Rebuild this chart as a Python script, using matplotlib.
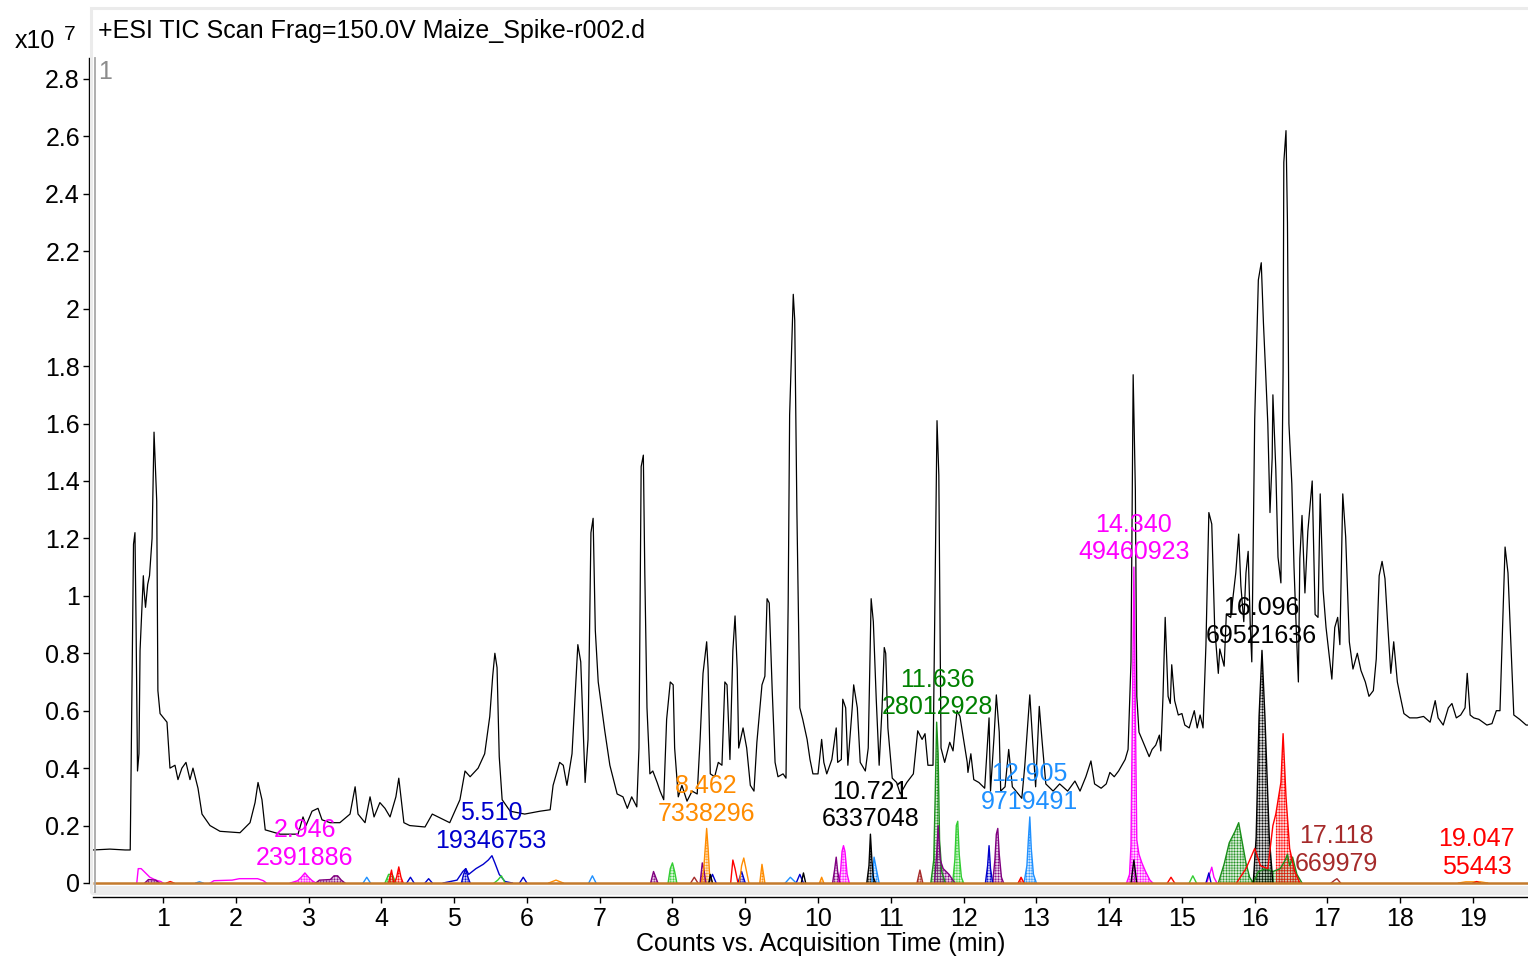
import matplotlib
matplotlib.use("Agg")
import numpy as np
import matplotlib.pyplot as plt
from matplotlib.patches import Rectangle
from matplotlib.lines import Line2D

plt.rcParams['font.family'] = ['Liberation Sans', 'DejaVu Sans']
plt.rcParams['hatch.linewidth'] = 0.35

# TIC trace, time (min) and counts (x10^7)
tic_time = [0.04, 0.27, 0.48, 0.55, 0.57, 0.595, 0.615, 0.63, 0.65, 0.67, 0.685, 0.73, 0.74, 0.76,
            0.79, 0.815, 0.85, 0.877, 0.914, 0.93, 0.96, 1.055, 1.096, 1.165, 1.206, 1.26, 1.316,
            1.371, 1.412, 1.481, 1.536, 1.646, 1.783, 2.058, 2.196, 2.265, 2.306, 2.36, 2.405, 2.61,
            2.855, 2.924, 2.965, 3.048, 3.13, 3.185, 3.295, 3.43, 3.57, 3.64, 3.68, 3.776, 3.845,
            3.90, 3.98, 4.05, 4.12, 4.20, 4.24, 4.31, 4.39, 4.60, 4.70, 4.78, 4.94, 5.08, 5.15,
            5.22, 5.33, 5.42, 5.49, 5.53, 5.56, 5.59, 5.62, 5.66, 5.77, 5.97, 6.18, 6.32,
            6.36, 6.45, 6.50, 6.55, 6.62, 6.66, 6.70, 6.74, 6.80, 6.84, 6.88, 6.91, 6.94, 6.98,
            7.07, 7.14, 7.24, 7.32, 7.38, 7.44, 7.51, 7.54, 7.57, 7.60, 7.62, 7.65, 7.69, 7.73,
            7.79, 7.83, 7.88, 7.92, 7.97, 8.01, 8.03, 8.08, 8.13, 8.20, 8.27, 8.34, 8.38, 8.42,
            8.47, 8.49, 8.52, 8.58, 8.63, 8.68, 8.72, 8.75, 8.79, 8.83, 8.86, 8.89, 8.91, 8.97,
            9.02, 9.07, 9.12, 9.16, 9.23, 9.27, 9.30, 9.33, 9.37, 9.41, 9.45, 9.52, 9.56, 9.59,
            9.61, 9.66, 9.68, 9.71, 9.75, 9.79, 9.85, 9.89, 9.93, 10.00, 10.05, 10.08, 10.12,
            10.19, 10.25, 10.27, 10.32, 10.34, 10.38, 10.41, 10.47, 10.49, 10.54, 10.58, 10.65,
            10.69, 10.73, 10.76, 10.80, 10.84, 10.88, 10.91, 10.93, 10.96, 11.02, 11.08, 11.13,
            11.22, 11.31, 11.37, 11.43, 11.47, 11.51, 11.58, 11.62, 11.635, 11.66, 11.69, 11.74,
            11.81, 11.855, 11.91, 11.95, 11.99, 12.05, 12.06, 12.10, 12.14, 12.21, 12.29, 12.35,
            12.37, 12.42, 12.45, 12.49, 12.51, 12.57, 12.62, 12.67, 12.72, 12.80, 12.84, 12.89,
            12.91, 12.95, 12.99, 13.04, 13.08, 13.13, 13.23, 13.32, 13.43, 13.53, 13.60, 13.68,
            13.75, 13.80, 13.89, 13.96, 14.01, 14.07, 14.13, 14.22, 14.26, 14.30, 14.33, 14.36,
            14.38, 14.41, 14.46, 14.55, 14.59, 14.64, 14.69, 14.71, 14.74, 14.77, 14.81, 14.84,
            14.86, 14.90, 14.95, 15.00, 15.04, 15.10, 15.17, 15.21, 15.25, 15.29, 15.33, 15.37,
            15.41, 15.45, 15.50, 15.52, 15.58, 15.61, 15.67, 15.74, 15.78, 15.81, 15.85, 15.88,
            15.91, 15.94, 15.96, 16.00, 16.05, 16.09, 16.12, 16.15, 16.18, 16.21, 16.24, 16.25,
            16.29, 16.32, 16.36, 16.39, 16.40, 16.43, 16.45, 16.47, 16.51, 16.54, 16.57, 16.60,
            16.62, 16.65, 16.69, 16.73, 16.79, 16.83, 16.87, 16.90, 16.94, 16.98, 17.02, 17.06,
            17.10, 17.14, 17.17, 17.21, 17.25, 17.30, 17.35, 17.41, 17.46, 17.52, 17.57, 17.63,
            17.67, 17.71, 17.75, 17.79, 17.83, 17.87, 17.91, 17.96, 18.00, 18.05, 18.13, 18.23,
            18.32, 18.41, 18.48, 18.52, 18.59, 18.66, 18.71, 18.77, 18.83, 18.89, 18.92, 18.96,
            19.01, 19.08, 19.19, 19.26, 19.32, 19.37, 19.41, 19.44, 19.48, 19.52, 19.56, 19.64,
            19.73, 19.75]
tic_counts = [0.115, 0.118, 0.115, 0.115, 0.6, 1.18, 1.22, 0.9, 0.39, 0.45, 0.81, 1.07, 1.02, 0.96,
              1.04, 1.07, 1.2, 1.57, 1.33, 0.67, 0.59, 0.56, 0.40, 0.41, 0.36, 0.40, 0.42,
              0.36, 0.40, 0.33, 0.24, 0.20, 0.18, 0.175, 0.21, 0.28, 0.35, 0.29, 0.185, 0.17,
              0.17, 0.23, 0.20, 0.25, 0.26, 0.22, 0.21, 0.21, 0.24, 0.335, 0.24, 0.21, 0.30,
              0.23, 0.28, 0.26, 0.23, 0.30, 0.365, 0.21, 0.20, 0.195, 0.24, 0.23, 0.21, 0.29, 0.39,
              0.37, 0.40, 0.45, 0.58, 0.72, 0.80, 0.75, 0.44, 0.29, 0.25, 0.24, 0.25, 0.255,
              0.34, 0.42, 0.41, 0.34, 0.45, 0.64, 0.83, 0.77, 0.35, 0.50, 1.22, 1.27, 0.88, 0.70,
              0.53, 0.41, 0.31, 0.30, 0.26, 0.30, 0.265, 0.47, 1.45, 1.49, 1.08, 0.61, 0.38, 0.39,
              0.35, 0.32, 0.29, 0.57, 0.70, 0.69, 0.47, 0.30, 0.34, 0.285, 0.32, 0.31, 0.50, 0.73,
              0.84, 0.745, 0.38, 0.37, 0.42, 0.41, 0.70, 0.69, 0.43, 0.81, 0.93, 0.745, 0.47, 0.54,
              0.47, 0.34, 0.32, 0.49, 0.69, 0.72, 0.99, 0.975, 0.675, 0.42, 0.37, 0.38, 0.365, 0.975,
              1.63, 2.05, 1.96, 1.29, 0.61, 0.57, 0.50, 0.43, 0.38, 0.38, 0.50, 0.42, 0.38,
              0.43, 0.54, 0.42, 0.43, 0.64, 0.61, 0.41, 0.61, 0.69, 0.61, 0.42, 0.39,
              0.47, 0.99, 0.91, 0.64, 0.41, 0.61, 0.82, 0.80, 0.54, 0.365, 0.35, 0.31,
              0.35, 0.38, 0.53, 0.50, 0.52, 0.41, 0.41, 1.29, 1.61, 1.42, 0.47, 0.42,
              0.49, 0.46, 0.60, 0.58, 0.515, 0.42, 0.385, 0.45, 0.36, 0.35, 0.33, 0.575,
              0.32, 0.515, 0.655, 0.525, 0.32, 0.335, 0.465, 0.335, 0.32, 0.295, 0.405, 0.585,
              0.655, 0.49, 0.335, 0.615, 0.49, 0.345, 0.32, 0.345, 0.32, 0.355, 0.32, 0.37,
              0.425, 0.345, 0.33, 0.345, 0.385, 0.37, 0.39, 0.43, 0.465, 0.77, 1.77, 1.37,
              0.65, 0.525, 0.495, 0.44, 0.465, 0.48, 0.515, 0.46, 0.65, 0.925, 0.65, 0.625,
              0.76, 0.635, 0.585, 0.59, 0.55, 0.54, 0.60, 0.54, 0.585, 0.54, 0.83, 1.29,
              1.25, 0.89, 0.73, 0.815, 0.755, 0.935, 0.925, 1.08, 1.215, 1.035, 0.91, 1.08,
              1.155, 0.89, 0.77, 1.615, 2.10, 2.16, 1.95, 1.78, 1.60, 1.29, 1.48, 1.70,
              1.44, 1.135, 1.045, 1.78, 2.51, 2.62, 2.30, 1.60, 1.39, 1.10, 0.89, 0.70,
              1.13, 1.28, 1.01, 1.225, 1.40, 0.935, 0.925, 1.355, 1.02, 0.89, 0.80, 0.71,
              0.89, 0.925, 0.83, 1.355, 1.205, 0.84, 0.745, 0.80, 0.74, 0.70, 0.65, 0.67,
              0.78, 1.07, 1.12, 1.06, 0.89, 0.73, 0.84, 0.70, 0.65, 0.59, 0.575, 0.575,
              0.58, 0.56, 0.635, 0.575, 0.55, 0.61, 0.625, 0.575, 0.585, 0.61, 0.73, 0.585,
              0.575, 0.57, 0.55, 0.555, 0.60, 0.60, 0.925, 1.17, 1.08, 0.83, 0.585, 0.57,
              0.55, 0.55]

# extracted ion chromatograms: colour, times, counts, integrated (hatched) or not
eic_colors = []
eic_times = []
eic_counts = []
eic_hatched = []


def eic(color, t, c, hatched=False):
    eic_colors.append(color)
    eic_times.append(t)
    eic_counts.append(c)
    eic_hatched.append(hatched)


MAG, BLUE, ORANGE, DBLUE = '#ff00ff', '#0000cc', '#ff8c00', '#1e90ff'
LGREEN, DGREEN, PURPLE, RED, BROWN, BLACK = '#32cd32', '#1a8f1a', '#800080', '#ff0000', '#a52a2a', '#000000'

eic(MAG, [0.64, 0.66, 0.70, 0.76, 0.82, 0.90, 0.97, 1.0], [0, 0.05, 0.05, 0.035, 0.02, 0.01, 0.005, 0])
eic(MAG, [1.65, 1.7, 1.95, 2.05, 2.3, 2.38, 2.42], [0, 0.008, 0.01, 0.015, 0.015, 0.008, 0])
eic(MAG, [2.75, 2.85, 2.9, 2.95, 3.0, 3.05, 3.1], [0, 0.008, 0.02, 0.035, 0.02, 0.008, 0], True)
eic(MAG, [10.28, 10.31, 10.33, 10.35, 10.37, 10.40, 10.43], [0, 0.04, 0.11, 0.13, 0.11, 0.03, 0], True)
eic(MAG, [15.34, 15.38, 15.41, 15.44, 15.48], [0, 0.03, 0.055, 0.02, 0])
eic(PURPLE, [0.75, 0.8, 0.9, 0.95], [0, 0.012, 0.01, 0], True)
eic(PURPLE, [3.1, 3.15, 3.3, 3.35, 3.4, 3.45, 3.5], [0, 0.01, 0.012, 0.025, 0.025, 0.01, 0], True)
eic(PURPLE, [7.70, 7.74, 7.77, 7.80], [0, 0.04, 0.02, 0], True)
eic(PURPLE, [8.38, 8.41, 8.43, 8.46], [0, 0.07, 0.05, 0], True)
eic(PURPLE, [10.20, 10.23, 10.25, 10.27, 10.30], [0, 0.05, 0.09, 0.04, 0], True)
eic(PURPLE, [12.40, 12.43, 12.45, 12.47, 12.49, 12.52, 12.55], [0, 0.08, 0.17, 0.19, 0.1, 0.02, 0], True)
eic(BLUE, [4.35, 4.4, 4.45], [0, 0.02, 0])
eic(BLUE, [4.6, 4.65, 4.7], [0, 0.015, 0])
eic(BLUE, [4.85, 5.04, 5.12, 5.16, 5.20, 5.30, 5.40, 5.47, 5.52, 5.56, 5.62, 5.70, 5.80],
    [0, 0.01, 0.04, 0.05, 0.03, 0.05, 0.065, 0.08, 0.095, 0.07, 0.03, 0.005, 0])
eic(BLUE, [5.10, 5.13, 5.16, 5.19, 5.22], [0, 0.03, 0.05, 0.02, 0], True)
eic(BLUE, [5.9, 5.95, 6.0], [0, 0.02, 0])
eic(BLUE, [8.5, 8.55, 8.6], [0, 0.03, 0])
eic(BLUE, [8.9, 8.95, 9.0], [0, 0.04, 0], True)
eic(BLUE, [9.70, 9.75, 9.80], [0, 0.03, 0])
eic(BLUE, [12.30, 12.33, 12.35, 12.37, 12.40], [0, 0.06, 0.13, 0.05, 0], True)
eic(BLUE, [15.33, 15.37, 15.40], [0, 0.035, 0])
eic(DBLUE, [1.45, 1.5, 1.55], [0, 0.004, 0])
eic(DBLUE, [3.75, 3.8, 3.85], [0, 0.02, 0])
eic(DBLUE, [6.85, 6.9, 6.95], [0, 0.025, 0])
eic(DBLUE, [9.55, 9.62, 9.7], [0, 0.02, 0])
eic(DBLUE, [10.74, 10.77, 10.80, 10.84], [0, 0.09, 0.05, 0], True)
eic(DBLUE, [12.83, 12.87, 12.89, 12.91, 12.93, 12.96, 13.0], [0, 0.06, 0.15, 0.23, 0.12, 0.03, 0], True)
eic(LGREEN, [4.05, 4.1, 4.15, 4.2], [0, 0.03, 0.03, 0], True)
eic(LGREEN, [5.55, 5.6, 5.65, 5.7], [0, 0.01, 0.025, 0])
eic(LGREEN, [7.94, 7.97, 8.0, 8.03, 8.06], [0, 0.05, 0.07, 0.04, 0], True)
eic(LGREEN, [11.85, 11.88, 11.90, 11.92, 11.94, 11.97, 12.0], [0, 0.08, 0.2, 0.215, 0.1, 0.02, 0], True)
eic(LGREEN, [15.1, 15.15, 15.2], [0, 0.025, 0])
eic(DGREEN, [11.55, 11.59, 11.61, 11.63, 11.65, 11.67, 11.70, 11.75], [0, 0.08, 0.3, 0.56, 0.45, 0.15, 0.04, 0], True)
eic(PURPLE, [11.6, 11.63, 11.65, 11.68, 11.72, 11.8, 11.88], [0, 0.1, 0.2, 0.08, 0.05, 0.03, 0], True)
eic(DGREEN, [15.50, 15.58, 15.65, 15.73, 15.78, 15.83, 15.88, 15.93, 15.98],
    [0, 0.066, 0.14, 0.18, 0.21, 0.14, 0.07, 0.02, 0], True)
eic(DGREEN, [15.98, 16.05, 16.15, 16.25, 16.35, 16.42, 16.45, 16.48, 16.52, 16.58, 16.65],
    [0, 0.04, 0.05, 0.04, 0.05, 0.08, 0.1, 0.06, 0.09, 0.03, 0], True)
eic(ORANGE, [6.3, 6.4, 6.5], [0, 0.01, 0])
eic(ORANGE, [8.40, 8.43, 8.45, 8.47, 8.49, 8.51, 8.55], [0, 0.05, 0.12, 0.19, 0.12, 0.03, 0], True)
eic(ORANGE, [8.92, 8.95, 8.98, 9.01, 9.05], [0, 0.06, 0.087, 0.05, 0])
eic(ORANGE, [9.2, 9.23, 9.27], [0, 0.065, 0], True)
eic(ORANGE, [10.02, 10.05, 10.08], [0, 0.02, 0], True)
eic(ORANGE, [18.8, 18.9, 19.1, 19.2], [0, 0.004, 0.004, 0])
eic(RED, [1.05, 1.1, 1.15], [0, 0.005, 0])
eic(RED, [4.10, 4.14, 4.17], [0, 0.045, 0], True)
eic(RED, [4.18, 4.21, 4.24, 4.27, 4.3], [0, 0.02, 0.056, 0.02, 0], True)
eic(RED, [8.80, 8.83, 8.86, 8.90], [0, 0.08, 0.05, 0])
eic(RED, [12.75, 12.79, 12.83], [0, 0.02, 0], True)
eic(RED, [14.8, 14.85, 14.9], [0, 0.02, 0])
eic(RED, [19.0, 19.05, 19.1], [0, 0.005, 0])
eic(BROWN, [8.25, 8.3, 8.35], [0, 0.02, 0])
eic(BROWN, [11.36, 11.4, 11.44], [0, 0.045, 0], True)
eic(BROWN, [17.05, 17.1, 17.13, 17.18], [0, 0.01, 0.015, 0])
eic(BLACK, [8.5, 8.52, 8.55], [0, 0.03, 0])
eic(BLACK, [9.77, 9.8, 9.83], [0, 0.035, 0])
eic(BLACK, [10.67, 10.70, 10.72, 10.74, 10.76, 10.79], [0, 0.06, 0.17, 0.08, 0.02, 0], True)
eic(BLACK, [15.98, 16.02, 16.06, 16.10, 16.14, 16.20, 16.25], [0, 0.16, 0.58, 0.81, 0.58, 0.16, 0], True)
eic(BLACK, [14.3, 14.34, 14.38], [0, 0.08, 0], True)
eic(MAG, [14.24, 14.28, 14.30, 14.32, 14.34, 14.36, 14.38, 14.41, 14.45, 14.5, 14.56, 14.6],
    [0, 0.03, 0.13, 0.6, 1.10, 0.6, 0.15, 0.1, 0.07, 0.04, 0.01, 0], True)

# red trace rising before the 16.4 peak, only the peak itself is integrated
red_time = [15.75, 15.88, 16.0, 16.08, 16.18, 16.25, 16.29, 16.36, 16.39, 16.43, 16.48, 16.55, 16.62]
red_counts = [0, 0.05, 0.12, 0.06, 0.05, 0.2, 0.24, 0.35, 0.52, 0.3, 0.12, 0.04, 0]

# labelled peaks: retention time, area, peak height, colour
label_rt = [2.946, 5.510, 8.462, 10.721, 11.636, 12.905, 14.340, 16.096, 17.118, 19.047]
label_area = [2391886, 19346753, 7338296, 6337048, 28012928, 9719491, 49460923, 69521636, 669979, 55443]
label_height = [0.035, 0.095, 0.19, 0.17, 0.56, 0.23, 1.10, 0.81, 0.015, 0.005]
label_color = [MAG, BLUE, ORANGE, BLACK, '#008000', DBLUE, MAG, BLACK, BROWN, RED]

W, H = 1528, 956
fig = plt.figure(figsize=(W / 100, H / 100), dpi=100)

# outer light frame and inner grey edge
fig.add_artist(Rectangle((91 / W, 1 - 893 / H), (W + 5 - 91) / W, (893 - 8) / H,
                         transform=fig.transFigure, fill=False, edgecolor='#ebebeb', lw=2.2))
fig.add_artist(Line2D([95 / W, 95 / W], [1 - 58 / H, 1 - 892 / H], transform=fig.transFigure,
                      color='#a8a8a8', lw=1.3))

ax = fig.add_axes([89 / W, (H - 897) / H, (W - 89) / W, (897 - 58) / H])
ax.patch.set_alpha(0)
ax.set_xlim(-0.0165, 19.755)
ax.set_ylim(-0.0488, 2.873)

ax.add_patch(Rectangle((0.06, -0.0348), 19.8, 0.026, facecolor='#ececec', edgecolor='none', zorder=0))

ax.plot(tic_time, tic_counts, color='black', lw=0.9, zorder=3)

for col, t, c, hat in zip(eic_colors, eic_times, eic_counts, eic_hatched):
    if hat:
        ax.fill_between(t, c, 0, facecolor=matplotlib.colors.to_rgba(col, 0.18), edgecolor=col,
                        hatch='++++++', linewidth=0, zorder=2)
    ax.plot(t, c, color=col, lw=1.0, zorder=2.5)

red_time = np.array(red_time)
ax.fill_between(red_time, red_counts, 0, where=red_time >= 16.28, facecolor=matplotlib.colors.to_rgba(RED, 0.18),
                edgecolor=RED, hatch='++++++', linewidth=0, zorder=2)
ax.plot(red_time, red_counts, color=RED, lw=1.0, zorder=2.5)

ax.hlines(0, tic_time[0], tic_time[-1], color='#c47a2c', lw=1.8, zorder=2.6)

for rt, area, h, col in zip(label_rt, label_area, label_height, label_color):
    ax.annotate(f"{rt:.3f}\n{area}", xy=(rt, h), xytext=(0, 2), textcoords='offset points',
                ha='center', va='bottom', fontsize=18, color=col, linespacing=1.2, zorder=4)

for s in ['top', 'right']:
    ax.spines[s].set_visible(False)
ax.spines['left'].set_bounds(0, 2.873)
ax.spines['bottom'].set_bounds(0.04, 19.755)
ax.spines['left'].set_linewidth(1.0)
ax.spines['bottom'].set_linewidth(1.0)

ax.set_yticks(np.arange(0, 2.81, 0.2))
ax.set_yticklabels([f"{v:g}" for v in np.arange(0, 2.81, 0.2).round(1)])
ax.set_xticks(range(1, 20))
ax.tick_params(axis='both', direction='out', length=4.5, width=1, labelsize=18, pad=2)
ax.tick_params(axis='x', pad=3)

ax.set_xlabel("Counts vs. Acquisition Time (min)", fontsize=18, va='center')
ax.xaxis.set_label_coords((821 - 89) / (W - 89), (897 - 944) / (897 - 58))

fig.text(98 / W, 1 - 31 / H, "+ESI TIC Scan Frag=150.0V Maize_Spike-r002.d", fontsize=18, va='center', ha='left')
fig.text(15 / W, 1 - 41 / H, "x10", fontsize=18, va='center', ha='left')
fig.text(64 / W, 1 - 35 / H, "7", fontsize=15, va='center', ha='left')
fig.text(98 / W, 1 - 72 / H, "1", fontsize=18, va='center', ha='left', color='#8c8c8c')

fig.savefig("out.png", dpi=100)
